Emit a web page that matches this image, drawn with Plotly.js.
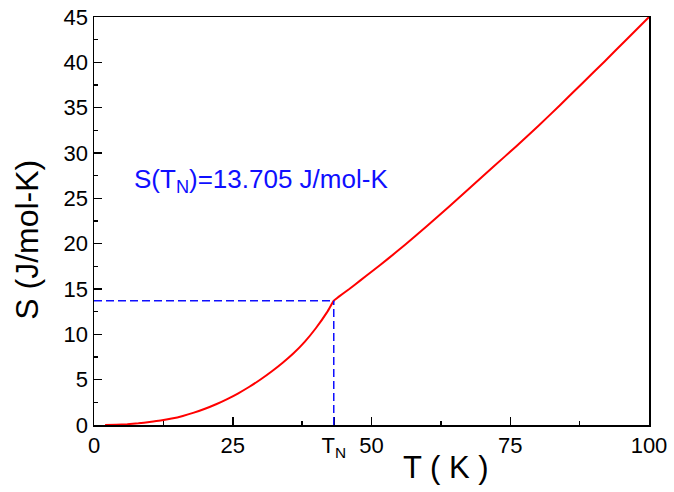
<!DOCTYPE html>
<html>
<head>
<meta charset="utf-8">
<script src="https://cdn.plot.ly/plotly-3.0.1.min.js"></script>
<style>html,body{margin:0;padding:0;background:#fff;}#chart{width:674px;height:492px;}</style>
</head>
<body>
<div id="chart"></div>
<script>
// Temperature (K) and entropy S (J/mol-K)
const T = [2, 4, 6, 8, 10, 12, 14, 16, 18, 20, 22, 24, 26, 28, 30, 32, 34, 36, 38, 40, 42, 43.2, 44, 46, 48, 50, 53, 56, 60, 64, 68, 72, 76, 80, 84, 88, 92, 96, 100];
const S = [0, 0.03, 0.09, 0.19, 0.33, 0.49, 0.71, 1.0, 1.36, 1.79, 2.29, 2.86, 3.5, 4.22, 5.02, 5.9, 6.87, 7.94, 9.2, 10.7, 12.45, 13.705, 14.1, 15.0, 15.95, 16.9, 18.35, 19.85, 21.95, 24.1, 26.3, 28.5, 30.7, 32.95, 35.3, 37.7, 40.1, 42.55, 45.0];
const TN = 43.2;
const S_TN = 13.705;
const xTickVals = [0, 25, TN, 50, 75, 100];
const xTickText = ['0', '25', 'T<sub>N</sub>', '50', '75', '100'];
const xMinorVals = [12.5, 37.5, 62.5, 87.5];
const yTickVals = [0, 5, 10, 15, 20, 25, 30, 35, 40, 45];
const yMinorVals = [2.5, 7.5, 12.5, 17.5, 22.5, 27.5, 32.5, 37.5, 42.5];

const font = 'Liberation Sans, Arial, sans-serif';
const blue = '#0f0fff';

const trace = {
  x: T, y: S, type: 'scatter', mode: 'lines',
  line: {color: '#ff0000', width: 2, shape: 'spline', smoothing: 0.4},
  hoverinfo: 'skip', showlegend: false
};

const axisCommon = {
  showgrid: false, zeroline: false, showline: true, linecolor: '#000', linewidth: 1.5,
  mirror: true, ticks: 'inside', ticklen: 8, tickwidth: 1.5, tickcolor: '#000',
  tickfont: {family: font, size: 22, color: '#000'}
};

const layout = {
  width: 674, height: 492,
  margin: {l: 94, r: 25, t: 17, b: 67},
  paper_bgcolor: '#fff', plot_bgcolor: '#fff',
  font: {family: font, color: '#000'},
  xaxis: Object.assign({}, axisCommon, {
    range: [0, 100], tickmode: 'array', tickvals: xTickVals, ticktext: xTickText,
    minor: {tickmode: 'array', tickvals: xMinorVals, ticks: 'inside', ticklen: 4, tickwidth: 1.5, tickcolor: '#000'}
  }),
  yaxis: Object.assign({}, axisCommon, {
    range: [0, 45], tickmode: 'array', tickvals: yTickVals,
    minor: {tickmode: 'array', tickvals: yMinorVals, ticks: 'inside', ticklen: 4, tickwidth: 1.5, tickcolor: '#000'}
  }),
  shapes: [
    {type: 'line', xref: 'x', yref: 'y', x0: 0, x1: TN, y0: S_TN, y1: S_TN,
     line: {color: blue, width: 1.5, dash: '8px,4px'}},
    {type: 'line', xref: 'x', yref: 'y', x0: TN, x1: TN, y0: 0, y1: S_TN,
     line: {color: blue, width: 1.5, dash: '8px,4px'}}
  ],
  annotations: [
    {xref: 'x', yref: 'y', x: 6.8, y: 27.0, xanchor: 'left', yanchor: 'middle', showarrow: false,
     text: 'S(T<sub>N</sub>)=13.705 J/mol-K', font: {family: font, size: 26, color: blue}},
    {xref: 'paper', yref: 'paper', x: 0.635, y: -0.105, xanchor: 'center', yanchor: 'middle', showarrow: false,
     text: 'T ( K )', font: {family: font, size: 31, color: '#000'}},
    {xref: 'paper', yref: 'paper', x: -0.12, y: 0.455, xanchor: 'center', yanchor: 'middle', showarrow: false,
     textangle: -90, text: 'S (J/mol-K)', font: {family: font, size: 32, color: '#000'}}
  ]
};

Plotly.newPlot('chart', [trace], layout, {displayModeBar: false, staticPlot: true});
</script>
</body>
</html>
